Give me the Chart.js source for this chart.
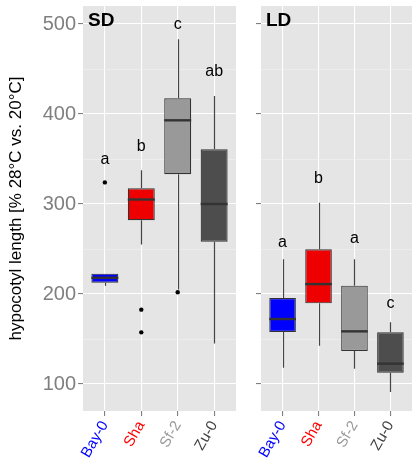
<!DOCTYPE html>
<html>
<head>
<meta charset="utf-8">
<script src="https://cdn.jsdelivr.net/npm/chart.js@4.4.1/dist/chart.umd.min.js"></script>
<style>
  html, body { margin: 0; padding: 0; background: #fff; }
  #wrap { position: relative; width: 413px; height: 463px; }
  .panel { position: absolute; top: 0; height: 463px; }
  #gap { position: absolute; left: 240px; top: 0; width: 15px; height: 412px; background: #fff; }
</style>
</head>
<body>
<div id="wrap">
  <div class="panel" style="left:0;width:240px"><canvas id="sd"></canvas></div>
  <div class="panel" style="left:240px;width:173px"><canvas id="ld"></canvas></div>
  <div id="gap"></div>
</div>
<script>
const categories = ["Bay-0", "Sha", "Sf-2", "Zu-0"]
const boxColors = ["#0000ff", "#ee0000", "#999999", "#4d4d4d"]
const labelColors = ["#0000ff", "#ff0000", "#999999", "#404040"]
const yTicks = [100, 150, 200, 250, 300, 350, 400, 450, 500]

// short day
const sdLow = [209, 255, 205, 145]
const sdQ1 = [212.6, 282, 333, 258]
const sdMedian = [218, 305, 393, 300]
const sdQ3 = [222.6, 317.5, 417.5, 360.7]
const sdHigh = [222.6, 337.5, 483, 420]
const sdOutliers = [[324], [182.6, 157.4], [202], []]
const sdLetters = ["a", "b", "c", "ab"]
const sdLetterY = [344, 359, 495, 442]

// long day
const ldLow = [118, 142.6, 117, 91]
const ldQ1 = [157.8, 189.6, 136.7, 112.6]
const ldMedian = [172.2, 211, 158.5, 122.6]
const ldQ3 = [195.6, 249.6, 209.3, 157.4]
const ldHigh = [238.5, 301.5, 238.5, 168.5]
const ldOutliers = [[], [], [], []]
const ldLetters = ["a", "b", "a", "c"]
const ldLetterY = [252.5, 323.7, 256.3, 184.8]

const FONT = "'Liberation Sans', Arial, sans-serif"

const boxExtras = {
  id: "boxExtras",
  beforeDraw(chart) {
    // panel background, from the scale bounds
    const {ctx} = chart
    const x = chart.scales.x, y = chart.scales.y
    ctx.save()
    ctx.fillStyle = "#e5e5e5"
    ctx.fillRect(x.left, y.top, x.right - x.left, y.bottom - y.top)
    ctx.restore()
  },
  beforeDatasetsDraw(chart, args, o) {
    const {ctx} = chart
    const x = chart.scales.x, y = chart.scales.y
    ctx.save()
    ctx.strokeStyle = "#444"
    ctx.lineWidth = 1.2
    o.low.forEach((lo, i) => {
      const px = Math.round(x.getPixelForValue(i + 1)) + 0.5
      ctx.beginPath()
      ctx.moveTo(px, y.getPixelForValue(o.high[i]))
      ctx.lineTo(px, y.getPixelForValue(o.q3[i]))
      ctx.moveTo(px, y.getPixelForValue(o.q1[i]))
      ctx.lineTo(px, y.getPixelForValue(lo))
      ctx.stroke()
    })
    ctx.restore()
  },
  afterDatasetsDraw(chart, args, o) {
    const {ctx} = chart
    const x = chart.scales.x, y = chart.scales.y
    const bars = chart.getDatasetMeta(0).data
    ctx.save()
    // medians
    ctx.strokeStyle = "#333"
    ctx.lineWidth = 2.4
    o.median.forEach((m, i) => {
      const {x: bx, width} = bars[i].getProps(["x", "width"], true)
      const py = y.getPixelForValue(m)
      ctx.beginPath()
      ctx.moveTo(bx - width / 2, py)
      ctx.lineTo(bx + width / 2, py)
      ctx.stroke()
    })
    // significance letters
    ctx.fillStyle = "#000"
    ctx.font = "16px " + FONT
    ctx.textAlign = "center"
    ctx.textBaseline = "alphabetic"
    o.letters.forEach((t, i) => {
      ctx.fillText(t, x.getPixelForValue(i + 1), y.getPixelForValue(o.letterY[i]))
    })
    // facet title
    ctx.font = "bold 19px " + FONT
    ctx.textAlign = "left"
    ctx.fillText(o.title, x.left + 5, y.top + 20)
    ctx.restore()
  }
}

function makePanel(id, title, low, q1, median, q3, high, outliers, letters, letterY, showY) {
  const boxes = categories.map((c, i) => ({x: i + 1, y: [q1[i], q3[i]]}))
  const points = []
  outliers.forEach((list, i) => list.forEach(v => points.push({x: i + 1, y: v})))
  return new Chart(id, {
    type: "bar",
    data: {
      datasets: [{
        data: boxes,
        backgroundColor: boxColors,
        borderColor: "#333",
        borderWidth: 1.2,
        borderSkipped: false,
        barPercentage: 1,
        categoryPercentage: 0.74
      }, {
        type: "scatter",
        data: points,
        pointRadius: 2.2,
        pointBackgroundColor: "#000",
        pointBorderWidth: 0
      }]
    },
    options: {
      responsive: true,
      maintainAspectRatio: false,
      animation: false,
      layout: {padding: {top: 6, right: showY ? 2 : 1, left: 0, bottom: 0}},
      plugins: {
        legend: {display: false},
        tooltip: {enabled: false},
        boxExtras: {title, low, q1, median, q3, high, letters, letterY}
      },
      scales: {
        x: {
          type: "linear",
          min: 0.4,
          max: 4.6,
          offset: false,
          afterBuildTicks: s => { s.ticks = categories.map((c, i) => ({value: i + 1})) },
          afterFit: s => { s.height = 52; s.paddingLeft = 0; s.paddingRight = 0 },
          border: {display: false},
          grid: {offset: false, color: "#ffffff", lineWidth: 1.1, tickColor: "#7f7f7f", tickLength: 5},
          ticks: {
            autoSkip: false,
            minRotation: 60,
            maxRotation: 60,
            padding: 2,
            callback: v => categories[v - 1],
            color: ctx => labelColors[ctx.index],
            font: {family: FONT, size: 15}
          }
        },
        y: {
          min: 70,
          max: 520,
          afterBuildTicks: s => { s.ticks = yTicks.map(v => ({value: v})) },
          afterFit: s => { s.width = showY ? 83 : 21; s.paddingTop = 0; s.paddingBottom = 0 },
          border: {display: false},
          grid: {
            color: ctx => ctx.tick && ctx.tick.value % 100 ? "#f2f2f2" : "#ffffff",
            lineWidth: ctx => ctx.tick && ctx.tick.value % 100 ? 0.6 : 1.1,
            tickColor: ctx => ctx.tick && ctx.tick.value % 100 ? "rgba(0,0,0,0)" : "#7f7f7f",
            tickLength: 5
          },
          ticks: {
            display: showY,
            padding: 2,
            callback: v => v % 100 ? "" : v,
            color: "#7f7f7f",
            font: {family: FONT, size: 20}
          },
          title: {
            display: showY,
            text: "hypocotyl length [% 28°C vs. 20°C]",
            color: "#000",
            font: {family: FONT, size: 17},
            padding: {top: 6, bottom: 2}
          }
        }
      }
    },
    plugins: [boxExtras]
  })
}

makePanel("sd", "SD", sdLow, sdQ1, sdMedian, sdQ3, sdHigh, sdOutliers, sdLetters, sdLetterY, true)
makePanel("ld", "LD", ldLow, ldQ1, ldMedian, ldQ3, ldHigh, ldOutliers, ldLetters, ldLetterY, false)
</script>
</body>
</html>
